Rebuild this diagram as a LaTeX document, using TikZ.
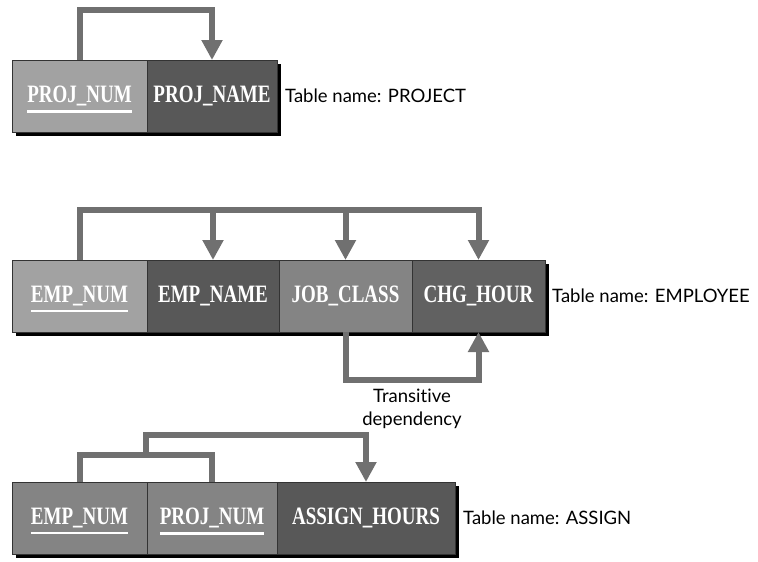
\documentclass[tikz,border=0pt]{standalone}
\usepackage{fontspec}
\setmainfont[Ligatures={NoCommon, NoRare}]{Lato}
\newfontfamily\cellfont[FakeStretch=0.76]{Liberation Serif}
\usepackage{tikz}
\usetikzlibrary{positioning, arrows.meta, shadows}
\definecolor{keygray}{HTML}{A2A2A2}
\definecolor{midgray}{HTML}{848484}
\definecolor{fielddark}{HTML}{585858}
\definecolor{depgray}{HTML}{707070}
\newcommand{\keyfield}[1]{\setbox0=\hbox{#1}\copy0\llap{\smash{\rule[-10pt]{\wd0}{2.5pt}}}}
\tikzstyle{field} = [rectangle, minimum height=72pt, inner sep=0pt, outer sep=0pt, draw=black!80, line width=0.6pt, text=white, font=\fontsize{25pt}{25pt}\cellfont\bfseries, drop shadow={shadow xshift=4pt, shadow yshift=-4pt, fill=black, opacity=1}]
\tikzstyle{tablename} = [inner sep=0pt, font=\fontsize{18.5pt}{23pt}\selectfont]
\tikzstyle{dep} = [line width=6pt, draw=depgray, -{Triangle[width=20pt, length=20pt]}]
\tikzstyle{bracket} = [line width=6pt, draw=depgray]

\begin{document}
\begin{tikzpicture}[x=1pt, y=-1pt]
	\useasboundingbox (0,0) rectangle (758,562);
	% PROJECT
	\node (P1) [field, fill=keygray, minimum width=135pt, anchor=north west] at (12,60) {\keyfield{PROJ\_NUM}};
	\node (P2) [field, fill=fielddark, minimum width=130pt, right=0pt of P1] {PROJ\_NAME};
	\node (Pname) [tablename, right=8pt of P2] {Table name: PROJECT};
	\draw [dep] (P1.north) -- ++(0,-50) -| (P2.north);
	% EMPLOYEE
	\node (E1) [field, fill=keygray, minimum width=135pt, anchor=north west] at (12,260) {\keyfield{EMP\_NUM}};
	\node (E2) [field, fill=fielddark, minimum width=132pt, right=0pt of E1] {EMP\_NAME};
	\node (E3) [field, fill=midgray, minimum width=133pt, right=0pt of E2] {JOB\_CLASS};
	\node (E4) [field, fill=fielddark!80!midgray, minimum width=133pt, right=0pt of E3] {CHG\_HOUR};
	\node (Ename) [tablename, right=7pt of E4] {Table name: EMPLOYEE};
	\coordinate (Ebar) at (0,210);
	\draw [dep] (E1.north) |- (Ebar -| E4.north) -- (E4.north);
	\draw [dep] (E2.north |- Ebar) -- (E2.north);
	\draw [dep] (E3.north |- Ebar) -- (E3.north);
	\draw [dep] (E3.south) -- ++(0,48) -| node (trans) [tablename, pos=0.25, below=6pt, align=center] {Transitive\\dependency} (E4.south);
	% ASSIGN
	\node (A1) [field, fill=midgray, minimum width=135pt, anchor=north west] at (12,482) {\keyfield{EMP\_NUM}};
	\node (A2) [field, fill=midgray, minimum width=130pt, right=0pt of A1] {\keyfield{PROJ\_NUM}};
	\node (A3) [field, fill=fielddark, minimum width=178pt, right=0pt of A2] {ASSIGN\_HOURS};
	\node (Aname) [tablename, right=8pt of A3] {Table name: ASSIGN};
	\draw [bracket] (A1.north) -- ++(0,-27) -| (A2.north);
	\coordinate (Ajoin) at (146,455);
	\draw [dep] (Ajoin) -- ++(0,-20) -| (A3.north);
\end{tikzpicture}
\end{document}
